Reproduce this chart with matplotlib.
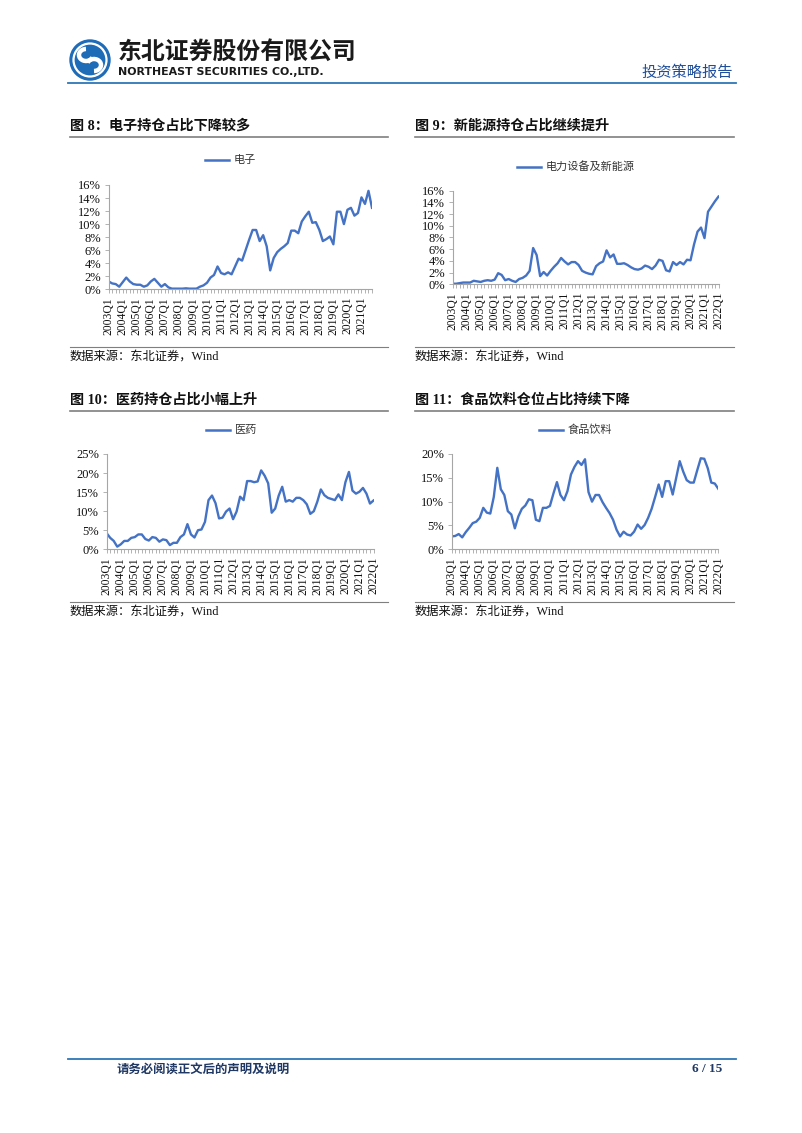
import matplotlib
matplotlib.use('Agg')
import matplotlib.pyplot as plt
from matplotlib.patches import Circle, Arc
from matplotlib.lines import Line2D

W, H = 802, 1133

# ---------------- data ----------------
quarters = [f"{y}Q{q}" for y in range(2003, 2023) for q in range(1, 5)][:77]

electronics = [1.2, 0.9, 0.8, 0.4, 1.1, 1.8, 1.2, 0.8, 0.7, 0.7,
               0.4, 0.6, 1.2, 1.6, 1.0, 0.4, 0.8, 0.3, 0.1, 0.1,
               0.1, 0.1, 0.15, 0.1, 0.1, 0.1, 0.4, 0.6, 1.0, 1.8,
               2.2, 3.5, 2.5, 2.3, 2.6, 2.3, 3.5, 4.7, 4.4, 6.0,
               7.6, 9.1, 9.1, 7.4, 8.3, 6.6, 2.9, 4.8, 5.7, 6.2,
               6.6, 7.1, 9.0, 9.0, 8.6, 10.4, 11.2, 11.9, 10.2, 10.3,
               9.1, 7.4, 7.7, 8.1, 6.9, 11.9, 11.9, 10.0, 12.2, 12.5,
               11.3, 11.7, 14.1, 13.1, 15.1, 12.5]

new_energy = [0.1, 0.1, 0.2, 0.3, 0.3, 0.3, 0.6, 0.5, 0.4, 0.6,
              0.7, 0.6, 0.8, 1.9, 1.6, 0.7, 0.9, 0.6, 0.4, 0.9,
              1.1, 1.5, 2.3, 6.2, 5.0, 1.4, 2.1, 1.5, 2.3, 3.0,
              3.6, 4.5, 3.9, 3.4, 3.8, 3.8, 3.3, 2.3, 2.0, 1.8,
              1.7, 3.1, 3.6, 3.9, 5.8, 4.6, 5.1, 3.5, 3.5, 3.6,
              3.3, 2.9, 2.6, 2.5, 2.7, 3.2, 3.0, 2.6, 3.2, 4.2,
              4.0, 2.4, 2.2, 3.8, 3.3, 3.8, 3.4, 4.2, 4.1, 6.8,
              9.0, 9.7, 7.9, 12.4, 13.3, 14.2, 15.0]

pharma = [4.2, 3.0, 2.2, 0.7, 1.3, 2.2, 2.2, 3.0, 3.2, 3.9,
          3.9, 2.7, 2.3, 3.2, 3.0, 2.0, 2.6, 2.4, 1.1, 1.7,
          1.7, 3.2, 3.9, 6.6, 3.9, 3.1, 5.0, 5.2, 7.2, 12.9,
          14.1, 12.1, 8.1, 8.3, 9.9, 10.7, 7.9, 9.9, 13.8, 12.9,
          17.9, 17.9, 17.6, 17.8, 20.7, 19.3, 17.3, 9.6, 10.7, 14.1,
          16.4, 12.5, 12.9, 12.5, 13.5, 13.5, 12.9, 11.8, 9.3, 10.0,
          12.5, 15.7, 14.2, 13.5, 13.2, 12.9, 14.4, 12.9, 17.6, 20.3,
          15.4, 14.6, 15.1, 16.1, 14.6, 12.0, 12.8]

food_bev = [2.7, 2.8, 3.2, 2.5, 3.6, 4.5, 5.5, 5.8, 6.6, 8.7,
            7.7, 7.5, 11.0, 17.1, 12.6, 11.4, 8.0, 7.3, 4.4, 6.9,
            8.5, 9.2, 10.5, 10.3, 6.2, 5.9, 8.7, 8.7, 9.1, 11.7,
            14.1, 11.4, 10.3, 12.2, 15.7, 17.3, 18.5, 17.7, 18.9, 12.0,
            10.0, 11.4, 11.4, 9.9, 8.7, 7.6, 6.2, 4.1, 2.7, 3.7,
            3.1, 2.9, 3.7, 5.2, 4.3, 5.1, 6.6, 8.5, 11.0, 13.6,
            11.0, 14.3, 14.3, 11.5, 15.0, 18.5, 16.3, 14.5, 14.0, 14.0,
            16.6, 19.1, 19.0, 17.0, 14.0, 13.8, 12.7]

titles = ["图 8：电子持仓占比下降较多", "图 9：新能源持仓占比继续提升",
          "图 10：医药持仓占比小幅上升", "图 11：食品饮料仓位占比持续下降"]
legends = ["电子", "电力设备及新能源", "医药", "食品饮料"]
yticks_list = [list(range(0, 17, 2)), list(range(0, 17, 2)),
               list(range(0, 26, 5)), list(range(0, 21, 5))]
source_text = "数据来源：东北证券，Wind"

# ---------------- style ----------------
LINE_C = '#4472C4'
BLUE = '#1E6BB8'
SERIF = ['Liberation Serif', 'Noto Sans CJK SC']
CJK = ['Noto Sans CJK SC', 'DejaVu Sans']

fig = plt.figure(figsize=(W / 100, H / 100), dpi=100)
bg = fig.add_axes([0, 0, 1, 1])
bg.set_xlim(0, W)
bg.set_ylim(H, 0)
bg.axis('off')

# ---------------- header ----------------
bg.add_patch(Circle((90, 60), 20, color=BLUE))
bg.add_patch(Circle((90, 60), 16.5, fill=False, ec='white', lw=1.6))
bg.add_patch(Arc((86, 55), 14, 12, theta1=20, theta2=270, ec='white', lw=3.2))
bg.add_patch(Arc((94, 65), 14, 12, theta1=200, theta2=450, ec='white', lw=3.2))
bg.text(118, 52, "东北证券股份有限公司", family=CJK, weight='bold', fontsize=17.2,
        color='#1A1A1A', va='center', ha='left')
bg.text(118, 72, "NORTHEAST SECURITIES CO.,LTD.", family=['DejaVu Sans'], weight='bold',
        fontsize=7.9, color='#1A1A1A', va='center', ha='left')
bg.text(733, 72, "投资策略报告", family=CJK, fontsize=11, color='#1F4E9A',
        va='center', ha='right')
bg.add_line(Line2D([68, 736], [83, 83], color='#2E75B6', lw=1.3))

# ---------------- footer ----------------
bg.add_line(Line2D([68, 736], [1059, 1059], color='#2E75B6', lw=1.3))
bg.text(117, 1069, "请务必阅读正文后的声明及说明", family=CJK, weight='bold', fontsize=8.9,
        color='#1F3864', va='center', ha='left')
bg.text(722, 1069, "6 / 15", family=SERIF, weight='bold', fontsize=9.5,
        color='#1F3864', va='center', ha='right')

# ---------------- panels ----------------
panels = [
    dict(series=electronics, ymax=16, rect=(108.7, 185.0, 372.0, 289.3),
         x0=70, x1=388, ty=126, tl=137, ly=160, lx=(205, 229), sl=347, sy=358),
    dict(series=new_energy, ymax=16, rect=(452.7, 190.7, 718.5, 284.3),
         x0=415, x1=734, ty=126, tl=137, ly=166.5, lx=(517, 541), sl=347, sy=358),
    dict(series=pharma, ymax=25, rect=(106.7, 454.0, 373.5, 549.3),
         x0=70, x1=388, ty=400, tl=411, ly=430, lx=(206, 230), sl=602, sy=613),
    dict(series=food_bev, ymax=20, rect=(451.7, 454.0, 718.3, 549.3),
         x0=415, x1=734, ty=400, tl=411, ly=430, lx=(539, 563), sl=602, sy=613),
]

for i, p in enumerate(panels):
    # title, rules, legend, source
    bg.text(p['x0'], p['ty'], titles[i], family=SERIF, weight='bold', fontsize=10.2,
            va='center', ha='left', color='#111111')
    bg.add_line(Line2D([p['x0'], p['x1']], [p['tl'], p['tl']], color='#7F7F7F', lw=1.2))
    bg.add_line(Line2D([p['x0'], p['x1']], [p['sl'], p['sl']], color='#7F7F7F', lw=0.8))
    bg.text(p['x0'], p['sy'], source_text, family=SERIF, fontsize=8.8,
            va='center', ha='left', color='#111111')
    bg.add_line(Line2D(list(p['lx']), [p['ly'], p['ly']], color=LINE_C, lw=1.8))
    bg.text(p['lx'][1] + 5, p['ly'], legends[i], family=CJK, fontsize=8,
            va='center', ha='left', color='#333333')

    l, t, r, b = p['rect']
    ax = fig.add_axes([l / W, 1 - b / H, (r - l) / W, (b - t) / H])
    s = p['series']
    n = len(s)
    xs = list(range(n))
    ax.plot(xs, s, color=LINE_C, lw=1.7, solid_joinstyle='round')
    ax.set_xlim(0, n - 1)
    ax.set_ylim(0, p['ymax'])
    yt = yticks_list[i]
    ax.set_yticks(yt)
    ax.set_yticklabels([f"{v}%" for v in yt], family=SERIF, fontsize=9, color='#111111')
    ax.set_xticks(xs, minor=True)
    major = list(range(0, n, 4))
    ax.set_xticks(major)
    ax.set_xticklabels([quarters[k] for k in major], rotation=90, family=SERIF,
                       fontsize=8.4, color='#111111')
    for side in ['top', 'right']:
        ax.spines[side].set_visible(False)
    for side in ['left', 'bottom']:
        ax.spines[side].set_color('#A6A6A6')
        ax.spines[side].set_linewidth(0.8)
    ax.tick_params(axis='both', which='both', color='#A6A6A6', width=0.6, length=3,
                   direction='out', pad=2.5)
    ax.patch.set_alpha(0)

fig.savefig('out.png', dpi=100)
